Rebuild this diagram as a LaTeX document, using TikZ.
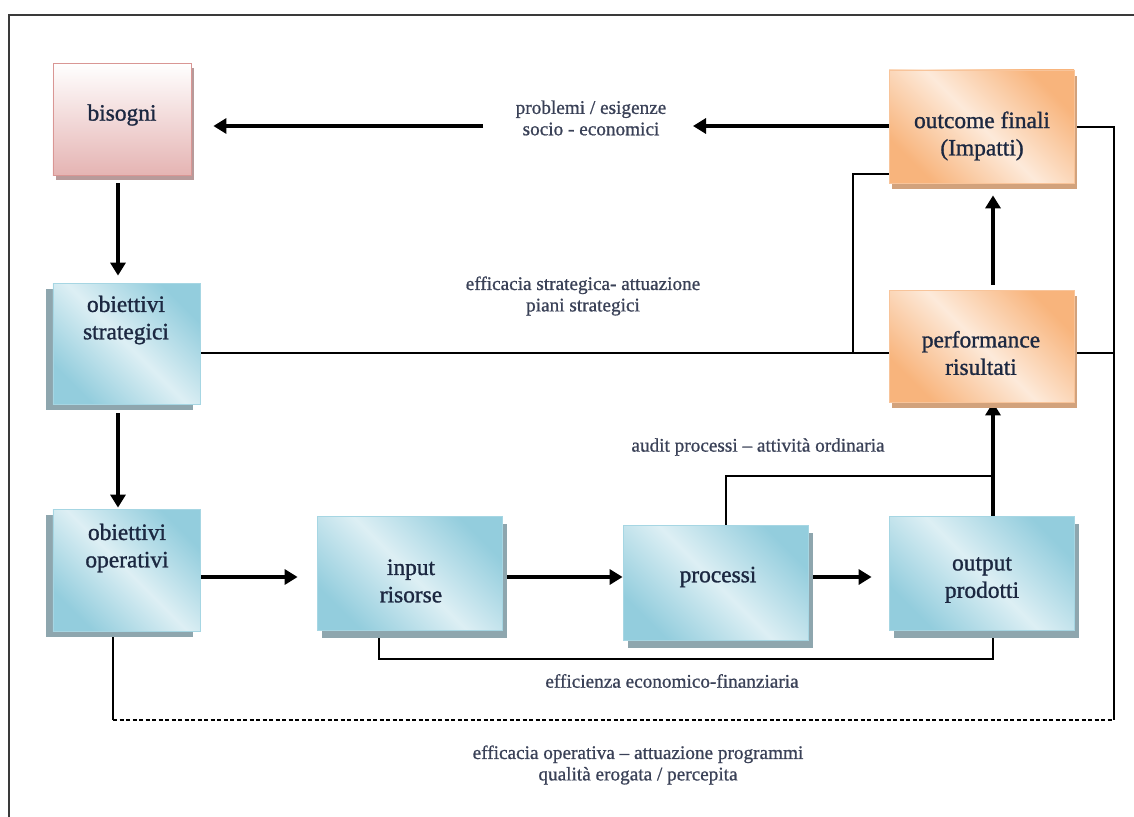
\documentclass[tikz,border=0pt]{standalone}
\usepackage{fontspec}
\setmainfont{Liberation Serif}
\newfontfamily\boxfont{Liberation Serif}[FakeBold=1.2]
\newfontfamily\labfont{Liberation Serif}[FakeBold=0.9]
\usetikzlibrary{arrows.meta,shadows,backgrounds}
\definecolor{bdark}{HTML}{93CDDD}
\definecolor{blight}{HTML}{DDEFF4}
\definecolor{bborder}{HTML}{A6D6E3}
\definecolor{bshadow}{HTML}{8EA6AE}
\definecolor{odark}{HTML}{F8B47C}
\definecolor{olight}{HTML}{FDEADA}
\definecolor{oborder}{HTML}{F8C49A}
\definecolor{oshadow}{HTML}{D2A27C}
\definecolor{pbottom}{HTML}{E5B4B3}
\definecolor{pborder}{HTML}{D99694}
\definecolor{pshadow}{HTML}{B89A9A}
\definecolor{boxtxt}{HTML}{1C2841}
\definecolor{labtxt}{HTML}{3A4157}
\definecolor{framecol}{HTML}{3A3A3A}
\begin{document}
\begin{tikzpicture}[x=1bp,y=-1bp,
  boxbase/.style={rectangle,inner sep=0pt,line width=0.8bp},
  bluebox/.style={boxbase,draw=bborder,shading=axis,top color=bdark,bottom color=bdark,middle color=blight,shading angle=-45},
  orangebox/.style={boxbase,draw=oborder,shading=axis,top color=odark,bottom color=odark,middle color=olight,shading angle=-45},
  pinkbox/.style={boxbase,draw=pborder,top color=white,bottom color=pbottom},
  bshadowL/.style={drop shadow={shadow xshift=-7bp,shadow yshift=-6bp,fill=bshadow,opacity=1}},
  bshadowR/.style={drop shadow={shadow xshift=5bp,shadow yshift=-8bp,fill=bshadow,opacity=1}},
  oshadowR/.style={drop shadow={shadow xshift=3bp,shadow yshift=-6bp,fill=oshadow,opacity=1}},
  pshadowR/.style={drop shadow={shadow xshift=3bp,shadow yshift=-5bp,fill=pshadow,opacity=1}},
  boxtext/.style={font=\boxfont\fontsize{23.5}{27.5}\selectfont,text=boxtxt,align=center,inner sep=0pt},
  labeltext/.style={font=\labfont\fontsize{19.3}{21.5}\selectfont,text=labtxt,align=center,inner sep=0pt},
  bigarrow/.style={line width=4bp,-{Triangle[length=13bp,width=15bp]}},
  thinline/.style={line width=1.6bp},
  frameline/.style={line width=2bp,draw=framecol}]
\useasboundingbox (0,0) rectangle (1134,817);
\draw[frameline] (9,817) -- (9,15) -- (1134,15);

% boxes
\node[pinkbox,pshadowR,minimum width=138bp,minimum height=112bp] (bis) at (122,119) {};
\node[bluebox,bshadowL,minimum width=147bp,minimum height=121bp] (strat) at (126.5,343.5) {};
\node[bluebox,bshadowL,minimum width=147bp,minimum height=122bp] (oper) at (126.5,570) {};
\node[bluebox,bshadowR,minimum width=185bp,minimum height=114bp] (inp) at (409.5,573) {};
\node[bluebox,bshadowR,minimum width=185bp,minimum height=115bp] (proc) at (715.5,582.5) {};
\node[bluebox,bshadowR,minimum width=185bp,minimum height=114bp] (outp) at (981.5,573) {};
\node[orangebox,oshadowR,minimum width=185bp,minimum height=112bp] (perf) at (981.5,346) {};
\node[orangebox,oshadowR,minimum width=185bp,minimum height=113bp] (outc) at (981.5,126.5) {};

% box texts
\node[boxtext] (tbis) at (122,115) {bisogni};
\node[boxtext] (tstrat) at (126,320) {obiettivi\\strategici};
\node[boxtext] (toper) at (127,548) {obiettivi\\operativi};
\node[boxtext] (tinp) at (411,581) {input\\risorse};
\node[boxtext] (tproc) at (718,577) {processi};
\node[boxtext] (toutp) at (982,580) {output\\prodotti};
\node[boxtext] (tperf) at (981,353) {performance\\risultati};
\node[boxtext] (toutc) at (982,136) {outcome finali\\(Impatti)};

% labels
\node[labeltext] (lprob) at (591,118) {problemi / esigenze\\socio - economici};
\node[labeltext] (lstrat) at (583,296) {efficacia strategica- attuazione\\piani strategici};
\node[labeltext] (laudit) at (758,447) {audit processi – attività ordinaria};
\node[labeltext] (leff) at (672,681) {efficienza economico-finanziaria};
\node[labeltext] (lop) at (638,765) {efficacia operativa – attuazione programmi\\qualità erogata / percepita};

% helper coordinates
\coordinate (ax) at (118,0);
\coordinate (ay) at (0,577);
\coordinate (vx) at (993,0);
\coordinate (rx) at (1114,0);
\coordinate (sy) at (0,353);
\coordinate (tx) at (853,0);
\coordinate (oy) at (0,174);
\coordinate (topy) at (0,126);
\coordinate (ry) at (0,127);
\coordinate (pA) at (693,126);
\coordinate (pB) at (483,126);
\coordinate (auy) at (0,476);
\coordinate (px) at (726,0);
\coordinate (ix) at (379,0);
\coordinate (ey) at (0,659);
\coordinate (dx) at (113,0);
\coordinate (dy) at (0,720);

\begin{pgfonlayer}{background}
% thick arrows
\draw[bigarrow,shorten <=8bp,shorten >=7bp] (bis.south -| ax) -- (strat.north -| ax);
\draw[bigarrow,shorten <=9bp,shorten >=1bp] (strat.south -| ax) -- (oper.north -| ax);
\draw[bigarrow,shorten <=-7bp,shorten >=19bp] (oper.east |- ay) -- (inp.west |- ay);
\draw[bigarrow] (inp.east |- ay) -- (proc.west |- ay);
\draw[bigarrow,shorten >=17bp] (proc.east |- ay) -- (outp.west |- ay);
\draw[bigarrow] (outp.north -| vx) -- (perf.south -| vx);
\draw[bigarrow,shorten <=5bp,shorten >=12bp] (perf.north -| vx) -- (outc.south -| vx);
\draw[bigarrow,shorten <=-4bp] (outc.west |- topy) -- (pA);
\draw[bigarrow,shorten >=22bp] (pB) -- (bis.east |- topy);
% thin connectors
\draw[thinline] (strat.east |- sy) -- (perf.west |- sy);
\draw[thinline] (tx |- sy) |- (outc.west |- oy);
\draw[thinline] (outc.east |- ry) -| (rx |- dy);
\draw[thinline] (perf.east |- sy) -- (rx |- sy);
\draw[thinline] (oper.south -| dx) -- (dx |- dy);
\draw[thinline,dash pattern=on 4bp off 2.5bp] (dx |- dy) -- (rx |- dy);
\draw[thinline] (inp.south -| ix) |- (ey -| vx) -- (outp.south -| vx);
\draw[thinline] (proc.north -| px) |- (auy -| vx);
\end{pgfonlayer}
\end{tikzpicture}
\end{document}
